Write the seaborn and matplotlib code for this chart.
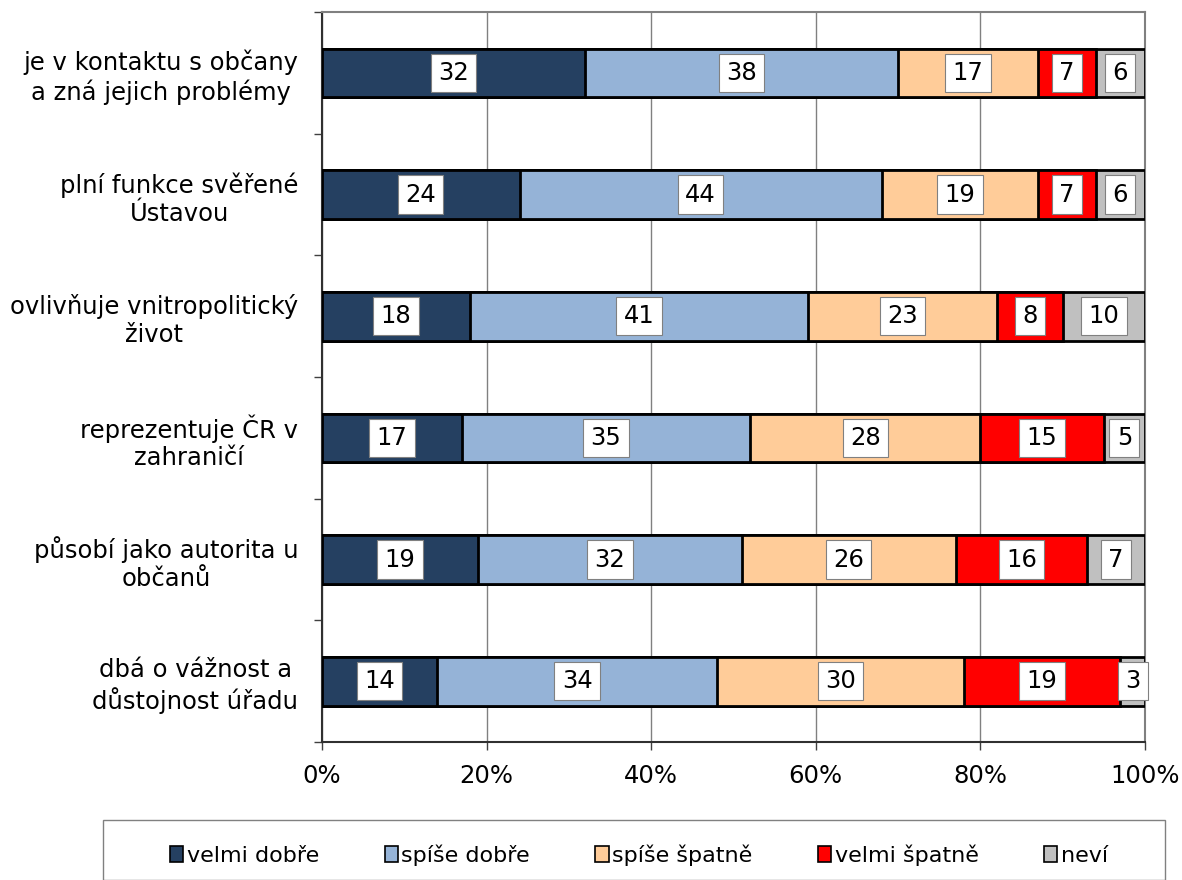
import matplotlib
matplotlib.use("Agg")
import matplotlib.pyplot as plt
import seaborn as sns
import pandas as pd
import numpy as np
from matplotlib.patches import Patch, Rectangle

categories = [
    "je v kontaktu s občany\na zná jejich problémy",
    "plní funkce svěřené\nÚstavou",
    "ovlivňuje vnitropolitický\nživot",
    "reprezentuje ČR v\nzahraničí",
    "působí jako autorita u\nobčanů",
    "dbá o vážnost a\ndůstojnost úřadu",
]
series_names = ["velmi dobře", "spíše dobře", "spíše špatně", "velmi špatně", "neví"]
velmi_dobre = [32, 24, 18, 17, 19, 14]
spise_dobre = [38, 44, 41, 35, 32, 34]
spise_spatne = [17, 19, 23, 28, 26, 30]
velmi_spatne = [7, 7, 8, 15, 16, 19]
nevi = [6, 6, 10, 5, 7, 3]
x_ticks = [0, 20, 40, 60, 80, 100]
x_tick_labels = ["0%", "20%", "40%", "60%", "80%", "100%"]
colors = ["#254061", "#95B3D7", "#FFCC99", "#FF0000", "#C0C0C0"]

sns.set_theme(style="white")
plt.rcParams["font.family"] = ["DejaVu Sans"]
plt.rcParams["text.color"] = "black"
plt.rcParams["xtick.color"] = "black"
plt.rcParams["ytick.color"] = "black"

values = [velmi_dobre, spise_dobre, spise_spatne, velmi_spatne, nevi]
df = pd.DataFrame({n: v for n, v in zip(series_names, values)})
df["kategorie"] = categories
cum = df[series_names].cumsum(axis=1)

FS = 17.5

fig = plt.figure(figsize=(11.82, 8.8), dpi=100)
ax = fig.add_axes([0.2724, 0.1568, 0.6963, 0.8295])

for i in reversed(range(len(series_names))):
    name = series_names[i]
    d = pd.DataFrame({"kategorie": categories, "cum": cum[name].values})
    sns.barplot(data=d, y="kategorie", x="cum", orient="h", color=colors[i],
                edgecolor="black", linewidth=2, width=0.4, ax=ax, saturation=1,
                zorder=3)

# labels
for i, name in enumerate(series_names):
    for j, cat in enumerate(categories):
        v = df[name].iloc[j]
        c = cum[name].iloc[j]
        ax.text(c - v / 2, j, str(v), ha="center", va="center", fontsize=FS,
                color="black", zorder=5,
                bbox=dict(boxstyle="square,pad=0.3", facecolor="white",
                          edgecolor="#808080", linewidth=0.8))

ax.set_xlim(0, 100)
ax.set_ylim(len(categories) - 0.5, -0.5)
ax.set_xticks(x_ticks)
ax.set_xticklabels(x_tick_labels, fontsize=FS)
ax.set_xlabel("")
ax.set_ylabel("")
ax.set_yticks(range(len(categories)))
ax.set_yticklabels(categories, fontsize=FS, ha="right", multialignment="center",
                   linespacing=1.2)
ax.tick_params(axis="y", which="major", length=0, pad=17)
ax.set_yticks(np.arange(-0.5, len(categories), 1), minor=True)
ax.tick_params(axis="y", which="minor", length=6, width=1, color="#404040", direction="out", left=True)
ax.tick_params(axis="x", which="major", length=6, width=1, color="#404040", direction="out", bottom=True, pad=10)

ax.grid(axis="x", color="#808080", linewidth=1, zorder=0)
ax.set_axisbelow(True)
for s in ["top", "right"]:
    ax.spines[s].set_color("#808080")
    ax.spines[s].set_linewidth(1.5)
for s in ["left", "bottom"]:
    ax.spines[s].set_color("#303030")
    ax.spines[s].set_linewidth(1.5)

# legend frame
fig.patches.append(Rectangle((103 / 1182, 0.0), (1165 - 103) / 1182, 60 / 880,
                             transform=fig.transFigure, facecolor="white",
                             edgecolor="#808080", linewidth=1))
handles = [Patch(facecolor=c, edgecolor="black", linewidth=1.2) for c in colors]
leg = fig.legend(handles, series_names, loc="center",
                 bbox_to_anchor=(639 / 1182, 1 - 855 / 880),
                 ncol=5, fontsize=16, frameon=False,
                 handlelength=0.6, handleheight=0.7,
                 handletextpad=0.15, columnspacing=2.95)

fig.savefig("out.png", dpi=100)
